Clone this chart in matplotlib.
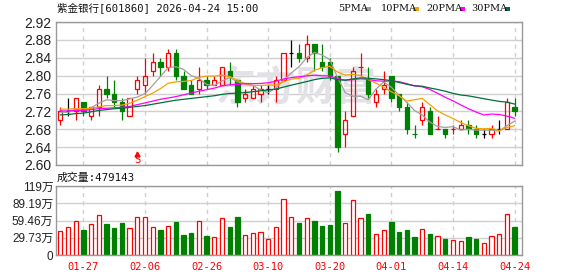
import matplotlib
matplotlib.use("Agg")
import matplotlib.pyplot as plt
import numpy as np
import pandas as pd
from matplotlib.patches import Rectangle

# ---------------- data ----------------
title = "紫金银行[601860] 2026-04-24 15:00"
volume_title = "成交量:479143"

dates = ["01-22", "01-23", "01-26", "01-27", "01-28", "01-29", "01-30", "02-02", "02-03", "02-04",
         "02-05", "02-06", "02-09", "02-10", "02-11", "02-12", "02-13", "02-24", "02-25", "02-26",
         "02-27", "03-02", "03-03", "03-04", "03-05", "03-06", "03-09", "03-10", "03-11", "03-12",
         "03-13", "03-16", "03-17", "03-18", "03-19", "03-20", "03-23", "03-24", "03-25", "03-26",
         "03-27", "03-30", "03-31", "04-01", "04-02", "04-03", "04-07", "04-08", "04-09", "04-10",
         "04-13", "04-14", "04-15", "04-16", "04-17", "04-20", "04-21", "04-22", "04-23", "04-24"]

opens = [2.70, 2.72, 2.72, 2.74, 2.71, 2.73, 2.77, 2.76, 2.74, 2.71,
         2.77, 2.78, 2.81, 2.83, 2.82, 2.85, 2.80, 2.78, 2.77, 2.79,
         2.78, 2.78, 2.81, 2.79, 2.75, 2.75, 2.76, 2.77, 2.77, 2.79,
         2.85, 2.85, 2.84, 2.87, 2.83, 2.83, 2.80, 2.67, 2.71, 2.82,
         2.79, 2.74, 2.77, 2.80, 2.76, 2.73, 2.67, 2.70, 2.72, 2.68,
         2.68, 2.68, 2.68, 2.69, 2.68, 2.67, 2.67, 2.68, 2.68, 2.73]

highs = [2.73, 2.75, 2.75, 2.74, 2.73, 2.78, 2.80, 2.79, 2.75, 2.75,
         2.80, 2.84, 2.85, 2.84, 2.86, 2.86, 2.81, 2.79, 2.82, 2.80,
         2.80, 2.82, 2.83, 2.79, 2.77, 2.78, 2.78, 2.78, 2.80, 2.85,
         2.88, 2.87, 2.89, 2.87, 2.87, 2.84, 2.80, 2.72, 2.82, 2.85,
         2.82, 2.77, 2.81, 2.80, 2.76, 2.74, 2.69, 2.74, 2.73, 2.71,
         2.68, 2.69, 2.70, 2.70, 2.69, 2.68, 2.69, 2.70, 2.75, 2.75]

lows = [2.69, 2.71, 2.70, 2.71, 2.70, 2.71, 2.75, 2.73, 2.70, 2.71,
        2.76, 2.76, 2.80, 2.80, 2.81, 2.79, 2.77, 2.76, 2.76, 2.77,
        2.78, 2.78, 2.78, 2.73, 2.74, 2.75, 2.74, 2.76, 2.74, 2.79,
        2.82, 2.83, 2.83, 2.81, 2.81, 2.79, 2.63, 2.64, 2.71, 2.80,
        2.75, 2.73, 2.76, 2.74, 2.72, 2.67, 2.66, 2.69, 2.67, 2.68,
        2.66, 2.67, 2.68, 2.67, 2.66, 2.66, 2.66, 2.67, 2.68, 2.71]

closes = [2.72, 2.72, 2.75, 2.72, 2.73, 2.77, 2.76, 2.74, 2.72, 2.75,
          2.79, 2.80, 2.83, 2.82, 2.85, 2.80, 2.77, 2.76, 2.79, 2.78,
          2.79, 2.82, 2.80, 2.74, 2.76, 2.77, 2.77, 2.77, 2.79, 2.85,
          2.85, 2.84, 2.87, 2.85, 2.82, 2.80, 2.64, 2.70, 2.81, 2.82,
          2.76, 2.76, 2.78, 2.75, 2.73, 2.68, 2.67, 2.73, 2.67, 2.68,
          2.67, 2.68, 2.69, 2.68, 2.67, 2.67, 2.68, 2.68, 2.74, 2.72]

# volume in 万 (10k shares)
volumes = [41.4, 48.3, 58.6, 43.1, 53.5, 69.0, 54.0, 47.1, 55.8, 46.6,
           65.5, 65.5, 48.3, 43.1, 50.0, 56.9, 34.5, 38.5, 58.6, 33.3,
           31.0, 63.8, 48.3, 65.5, 34.5, 38.0, 39.7, 27.6, 48.3, 96.6,
           65.0, 55.2, 63.2, 58.6, 50.0, 51.7, 110.4, 55.2, 94.9, 63.2,
           71.3, 36.2, 43.1, 56.9, 39.7, 43.1, 31.0, 44.8, 36.2, 32.2,
           27.6, 25.9, 24.1, 31.0, 27.6, 20.7, 32.2, 36.2, 70.7, 47.9143]

# moving-average values before enough in-window history exists
ma5_head = [2.718, 2.718, 2.724, 2.722]
ma10_head = [2.725, 2.725, 2.726, 2.726, 2.727, 2.730, 2.733, 2.733, 2.734]
ma20_head = [2.721, 2.721, 2.722, 2.722, 2.724, 2.726, 2.727, 2.728, 2.729, 2.731,
             2.735, 2.739, 2.743, 2.747, 2.750, 2.753, 2.757, 2.761, 2.765]
ma30_head = [2.712, 2.713, 2.715, 2.716, 2.719, 2.722, 2.724, 2.726, 2.727, 2.729,
             2.731, 2.733, 2.736, 2.739, 2.742, 2.745, 2.747, 2.749, 2.751, 2.753,
             2.755, 2.758, 2.760, 2.761, 2.762, 2.764, 2.766, 2.768, 2.770]

ma_names = ["5PMA", "10PMA", "20PMA", "30PMA"]
ma_periods = [5, 10, 20, 30]

date_ticks = ["01-27", "02-06", "02-26", "03-10", "03-20", "04-01", "04-14", "04-24"]
price_ticks = [2.60, 2.64, 2.68, 2.72, 2.76, 2.80, 2.84, 2.88, 2.92]
vol_ticks = [0, 29.73, 59.46, 89.19, 118.92]
vol_tick_labels = ["0", "29.73万", "59.46万", "89.19万", "119万"]

signal_dates = ["02-05"]
signal_labels = ["S"]

# ---------------- style ----------------
RED = "#ff0000"
GREEN = "#008000"
BLACK = "#000000"
ma_colors = ["#a0a0a0", "#f5a200", "#ff00ff", "#00703a"]
GRID = "#d0d0d0"
FRAME = "#999999"

W, H = 578, 276
fig = plt.figure(figsize=(W / 100, H / 100), dpi=100)


def fx(x):
    return x / W


def fy(y):
    return 1 - y / H


L, R = 56, 522
ax = fig.add_axes([fx(L), fy(165), fx(R) - fx(L), fy(22) - fy(165)])
axv = fig.add_axes([fx(L), fy(255), fx(R) - fx(L), fy(186) - fy(255)])

n = len(closes)
x = np.arange(n)
xlim = (-0.56, 59.96)
tick_pos = [dates.index(d) for d in date_ticks]

# candle colours
colors = []
for i in range(n):
    o, c = opens[i], closes[i]
    if c > o:
        colors.append(RED)
    elif c < o:
        colors.append(GREEN)
    else:
        prev = closes[i - 1] if i > 0 else c
        colors.append(RED if c > prev else (GREEN if c < prev else BLACK))

# ---------------- price panel ----------------
w = 0.56
lw = 0.9
for i in range(n):
    o, c, h, l = opens[i], closes[i], highs[i], lows[i]
    col = colors[i]
    top, bot = max(o, c), min(o, c)
    if o == c:
        ax.vlines(i, l, h, color=col, lw=lw, zorder=2)
        ax.hlines(o, i - w / 2, i + w / 2, color=col, lw=lw, zorder=2)
    elif col == RED:
        ax.vlines(i, top, h, color=col, lw=lw, zorder=2)
        ax.vlines(i, l, bot, color=col, lw=lw, zorder=2)
        ax.add_patch(Rectangle((i - w / 2, bot), w, top - bot, facecolor="none",
                               edgecolor=col, lw=lw, zorder=2))
    else:
        ax.vlines(i, l, h, color=col, lw=lw, zorder=2)
        ax.add_patch(Rectangle((i - w / 2, bot), w, top - bot, facecolor=col,
                               edgecolor=col, lw=lw, zorder=2))

s = pd.Series(closes)
heads = [ma5_head, ma10_head, ma20_head, ma30_head]
for p, head, col in zip(ma_periods, heads, ma_colors):
    vals = s.rolling(p).mean().to_numpy()
    vals[:p - 1] = head
    ax.plot(x, vals, color=col, lw=0.9, zorder=3)

# signal marker
for d, lab in zip(signal_dates, signal_labels):
    xi = dates.index(d)
    ax.plot([xi], [2.6235], marker="^", ms=3.5, color=RED, mec=RED, zorder=4)
    ax.text(xi, 2.6105, lab, color=RED, ha="center", va="center",
            fontsize=7.5, family=["DejaVu Sans Mono"], zorder=4)

# watermark
ax.text(0.515, 0.53, "东方财富", transform=ax.transAxes, fontsize=29, fontweight="bold",
        color="#e2e2e6", ha="center", va="center", family=["Noto Sans CJK SC"],
        zorder=0.6, style="italic")

ax.set_xlim(*xlim)
ax.set_ylim(2.60, 2.92)
ax.set_yticks(price_ticks)
ax.set_yticklabels([f"{t:.2f}" for t in price_ticks], fontsize=10,
                   family=["Liberation Sans"], color="#222222")
ax.set_xticks(tick_pos)
ax.set_xticklabels([])
ax.tick_params(length=0, pad=3)
ax.grid(axis="y", color=GRID, lw=1, ls="-")
ax.grid(axis="x", color=GRID, lw=1, ls=(0, (3, 3)))
ax.set_axisbelow(True)
for sp in ax.spines.values():
    sp.set_color(FRAME)
    sp.set_linewidth(1)

# ---------------- volume panel ----------------
for i in range(n):
    col = colors[i]
    if col == GREEN:
        axv.add_patch(Rectangle((i - w / 2, 0), w, volumes[i], facecolor=GREEN,
                                edgecolor=GREEN, lw=lw, zorder=2))
    else:
        axv.add_patch(Rectangle((i - w / 2, 0), w, volumes[i], facecolor="white",
                                edgecolor=RED, lw=lw, zorder=2))

axv.set_xlim(*xlim)
axv.set_ylim(0, vol_ticks[-1])
axv.set_yticks(vol_ticks)
axv.set_yticklabels(vol_tick_labels, fontsize=8.5,
                    family=["Liberation Sans", "Noto Sans CJK SC"], color="#222222")
axv.set_xticks(tick_pos)
axv.set_xticklabels(date_ticks, fontsize=7.5, family=["DejaVu Sans Mono"], color=RED)
axv.tick_params(length=0, pad=2)
axv.tick_params(axis="x", pad=5)
axv.grid(axis="y", color=GRID, lw=1, ls="-")
axv.grid(axis="x", color=GRID, lw=1, ls=(0, (3, 3)))
axv.set_axisbelow(True)
for sp in axv.spines.values():
    sp.set_color(FRAME)
    sp.set_linewidth(1)

# ---------------- header texts ----------------
fig.text(fx(57), fy(8), title, fontsize=7.6, va="center", ha="left",
         family=["DejaVu Sans Mono", "Noto Sans CJK SC"], color="#111111")
fig.text(fx(57), fy(178), volume_title, fontsize=7.8, va="center", ha="left",
         family=["DejaVu Sans Mono", "Noto Sans CJK SC"], color="#111111")

legend_x = [338, 380.5, 426, 471.5]
swatch_x = [365.3, 413.3, 459.7, 505.0]
for name, col, tx, sx in zip(ma_names, ma_colors, legend_x, swatch_x):
    fig.text(fx(tx), fy(8.5), name, fontsize=7.0, va="center", ha="left",
             family=["DejaVu Serif"], color="#111111")
    fig.patches.append(Rectangle((fx(sx), fy(10.7)), fx(5.4), fy(7.3) - fy(10.7),
                                 transform=fig.transFigure, facecolor=col,
                                 edgecolor="none", figure=fig))

fig.savefig("out.png", dpi=100)
